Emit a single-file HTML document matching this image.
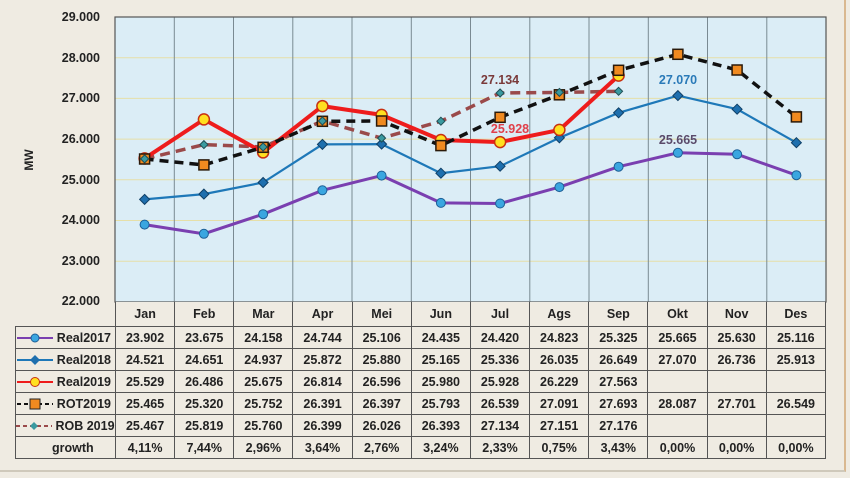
<!DOCTYPE html>
<html><head><meta charset="utf-8"><style>
body{margin:0;width:850px;height:478px;background:#efebe2;overflow:hidden;font-family:"Liberation Sans",sans-serif;}
#frame{position:absolute;left:0;top:0;width:844px;height:470px;border-right:2px solid #d9b890;border-bottom:2px solid #cfc9bb;}
svg{position:absolute;left:0;top:0;}
table{position:absolute;left:15px;top:302px;border-collapse:collapse;table-layout:fixed;width:811px;font-size:12.5px;font-weight:bold;color:#222;}
td{border:1px solid #555;text-align:center;height:21px;padding:0;background:#efebe2;}
tr.h td{height:24px;border-top:none;}
tr.h td:first-child{border:none;border-right:1px solid #555;background:transparent;}
td.l{text-align:right;padding-right:4px;white-space:nowrap;}
#lbl22{position:absolute;left:40px;top:294px;width:60px;text-align:right;font-size:12.5px;font-weight:bold;color:#222;}
</style></head><body>
<div id="frame"></div>
<svg width="850" height="478">
<rect x="115" y="17" width="711" height="285" fill="#dbedf6"/>
<g stroke="#e6dfa8" stroke-width="1">
<line x1="115" y1="57.7" x2="826" y2="57.7"/><line x1="115" y1="98.4" x2="826" y2="98.4"/><line x1="115" y1="139.1" x2="826" y2="139.1"/><line x1="115" y1="179.8" x2="826" y2="179.8"/><line x1="115" y1="220.5" x2="826" y2="220.5"/><line x1="115" y1="261.2" x2="826" y2="261.2"/>
</g>
<g stroke="#7a8a92" stroke-width="1">
<line x1="174.3" y1="17" x2="174.3" y2="302"/><line x1="233.5" y1="17" x2="233.5" y2="302"/><line x1="292.8" y1="17" x2="292.8" y2="302"/><line x1="352" y1="17" x2="352" y2="302"/><line x1="411.3" y1="17" x2="411.3" y2="302"/><line x1="470.5" y1="17" x2="470.5" y2="302"/><line x1="529.8" y1="17" x2="529.8" y2="302"/><line x1="589" y1="17" x2="589" y2="302"/><line x1="648.3" y1="17" x2="648.3" y2="302"/><line x1="707.5" y1="17" x2="707.5" y2="302"/><line x1="766.8" y1="17" x2="766.8" y2="302"/>
</g>
<rect x="115" y="17" width="711" height="285" fill="none" stroke="#555" stroke-width="1.2"/>
<g font-size="12.5" font-weight="bold" fill="#222" text-anchor="end">
<text x="100" y="21">29.000</text><text x="100" y="62">28.000</text><text x="100" y="102">27.000</text><text x="100" y="143">26.000</text><text x="100" y="184">25.000</text><text x="100" y="224">24.000</text><text x="100" y="265">23.000</text>
</g>
<text x="33" y="160" font-size="12" font-weight="bold" fill="#222" transform="rotate(-90 33 160)" text-anchor="middle">MW</text>
<polyline fill="none" stroke="#7a3fb0" stroke-width="3" points="144.6,224.6 203.9,233.8 263.1,214.2 322.4,190.3 381.6,175.6 440.9,202.9 500.1,203.5 559.4,187.1 618.6,166.7 677.9,152.8 737.1,154.3 796.4,175.2"/>
<g fill="#3aa6e0" stroke="#1d5f96" stroke-width="1"><circle cx="144.6" cy="224.6" r="4.5"/><circle cx="203.9" cy="233.8" r="4.5"/><circle cx="263.1" cy="214.2" r="4.5"/><circle cx="322.4" cy="190.3" r="4.5"/><circle cx="381.6" cy="175.6" r="4.5"/><circle cx="440.9" cy="202.9" r="4.5"/><circle cx="500.1" cy="203.5" r="4.5"/><circle cx="559.4" cy="187.1" r="4.5"/><circle cx="618.6" cy="166.7" r="4.5"/><circle cx="677.9" cy="152.8" r="4.5"/><circle cx="737.1" cy="154.3" r="4.5"/><circle cx="796.4" cy="175.2" r="4.5"/></g>
<polyline fill="none" stroke="#1e78b8" stroke-width="2.2" points="144.6,199.4 203.9,194.1 263.1,182.5 322.4,144.4 381.6,144.1 440.9,173.2 500.1,166.2 559.4,137.8 618.6,112.8 677.9,95.6 737.1,109.2 796.4,142.7"/>
<g fill="#1e6fae" stroke="#0f3f66" stroke-width="1"><path d="M144.6,194.4l5,5l-5,5l-5,-5z"/><path d="M203.9,189.1l5,5l-5,5l-5,-5z"/><path d="M263.1,177.5l5,5l-5,5l-5,-5z"/><path d="M322.4,139.4l5,5l-5,5l-5,-5z"/><path d="M381.6,139.1l5,5l-5,5l-5,-5z"/><path d="M440.9,168.2l5,5l-5,5l-5,-5z"/><path d="M500.1,161.2l5,5l-5,5l-5,-5z"/><path d="M559.4,132.8l5,5l-5,5l-5,-5z"/><path d="M618.6,107.8l5,5l-5,5l-5,-5z"/><path d="M677.9,90.6l5,5l-5,5l-5,-5z"/><path d="M737.1,104.2l5,5l-5,5l-5,-5z"/><path d="M796.4,137.7l5,5l-5,5l-5,-5z"/></g>
<polyline fill="none" stroke="#9a4a4a" stroke-width="3.5" stroke-dasharray="10,6" points="144.6,158.9 203.9,144.6 263.1,147 322.4,121 381.6,138.1 440.9,121.2 500.1,93 559.4,92.4 618.6,91.3"/>
<polyline fill="none" stroke="#ee1c1c" stroke-width="4" points="144.6,158.4 203.9,119.4 263.1,152.4 322.4,106.1 381.6,114.9 440.9,140 500.1,142.1 559.4,129.9 618.6,75.6"/>
<g fill="#ffe020" stroke="#c83010" stroke-width="1.5"><circle cx="144.6" cy="158.4" r="5.5"/><circle cx="203.9" cy="119.4" r="5.5"/><circle cx="263.1" cy="152.4" r="5.5"/><circle cx="322.4" cy="106.1" r="5.5"/><circle cx="381.6" cy="114.9" r="5.5"/><circle cx="440.9" cy="140" r="5.5"/><circle cx="500.1" cy="142.1" r="5.5"/><circle cx="559.4" cy="129.9" r="5.5"/><circle cx="618.6" cy="75.6" r="5.5"/></g>
<polyline fill="none" stroke="#111" stroke-width="3.5" stroke-dasharray="9,6" points="144.6,159 203.9,164.9 263.1,147.3 322.4,121.3 381.6,121 440.9,145.6 500.1,117.3 559.4,94.8 618.6,70.3 677.9,54.3 737.1,70 796.4,116.9"/>
<g fill="#f08a20" stroke="#2a1a0a" stroke-width="1.5"><rect x="139.6" y="154" width="10" height="10"/><rect x="198.9" y="159.9" width="10" height="10"/><rect x="258.1" y="142.3" width="10" height="10"/><rect x="317.4" y="116.3" width="10" height="10"/><rect x="376.6" y="116" width="10" height="10"/><rect x="435.9" y="140.6" width="10" height="10"/><rect x="495.1" y="112.3" width="10" height="10"/><rect x="554.4" y="89.8" width="10" height="10"/><rect x="613.6" y="65.3" width="10" height="10"/><rect x="672.9" y="49.3" width="10" height="10"/><rect x="732.1" y="65" width="10" height="10"/><rect x="791.4" y="111.9" width="10" height="10"/></g>
<g fill="#3a9aa0" stroke="#1f4f55" stroke-width="1"><path d="M144.6,154.9l4,4l-4,4l-4,-4z"/><path d="M203.9,140.6l4,4l-4,4l-4,-4z"/><path d="M263.1,143l4,4l-4,4l-4,-4z"/><path d="M322.4,117l4,4l-4,4l-4,-4z"/><path d="M381.6,134.1l4,4l-4,4l-4,-4z"/><path d="M440.9,117.2l4,4l-4,4l-4,-4z"/><path d="M500.1,89l4,4l-4,4l-4,-4z"/><path d="M559.4,88.4l4,4l-4,4l-4,-4z"/><path d="M618.6,87.3l4,4l-4,4l-4,-4z"/></g>
<g font-size="12.5" font-weight="bold" text-anchor="middle">
<text x="500" y="84" fill="#7a3a3a">27.134</text>
<text x="510" y="133" fill="#e0404a">25.928</text>
<text x="678" y="84" fill="#2a7ab8">27.070</text>
<text x="678" y="144" fill="#5a4a6a">25.665</text>
</g>
</svg>
<table>
<colgroup><col style="width:100px"><col span="12"></colgroup>
<tr class="h"><td></td><td>Jan</td><td>Feb</td><td>Mar</td><td>Apr</td><td>Mei</td><td>Jun</td><td>Jul</td><td>Ags</td><td>Sep</td><td>Okt</td><td>Nov</td><td>Des</td></tr>
<tr><td class="l"><svg width="36" height="12" style="position:static;vertical-align:middle"><line x1="0" y1="6" x2="36" y2="6" stroke="#7a3fb0" stroke-width="2"/><circle cx="18" cy="6" r="4" fill="#3aa6e0" stroke="#1d5f96"/></svg> Real2017</td><td>23.902</td><td>23.675</td><td>24.158</td><td>24.744</td><td>25.106</td><td>24.435</td><td>24.420</td><td>24.823</td><td>25.325</td><td>25.665</td><td>25.630</td><td>25.116</td></tr>
<tr><td class="l"><svg width="36" height="12" style="position:static;vertical-align:middle"><line x1="0" y1="6" x2="36" y2="6" stroke="#1e78b8" stroke-width="2"/><path d="M18,1l5,5l-5,5l-5,-5z" fill="#1e6fae"/></svg> Real2018</td><td>24.521</td><td>24.651</td><td>24.937</td><td>25.872</td><td>25.880</td><td>25.165</td><td>25.336</td><td>26.035</td><td>26.649</td><td>27.070</td><td>26.736</td><td>25.913</td></tr>
<tr><td class="l"><svg width="36" height="12" style="position:static;vertical-align:middle"><line x1="0" y1="6" x2="36" y2="6" stroke="#ee1c1c" stroke-width="2"/><circle cx="18" cy="6" r="4.5" fill="#ffe020" stroke="#c83010"/></svg> Real2019</td><td>25.529</td><td>26.486</td><td>25.675</td><td>26.814</td><td>26.596</td><td>25.980</td><td>25.928</td><td>26.229</td><td>27.563</td><td></td><td></td><td></td></tr>
<tr><td class="l"><svg width="36" height="12" style="position:static;vertical-align:middle"><line x1="0" y1="6" x2="36" y2="6" stroke="#111" stroke-width="2" stroke-dasharray="4,3"/><rect x="13" y="1" width="10" height="10" fill="#f08a20" stroke="#222"/></svg> ROT2019</td><td>25.465</td><td>25.320</td><td>25.752</td><td>26.391</td><td>26.397</td><td>25.793</td><td>26.539</td><td>27.091</td><td>27.693</td><td>28.087</td><td>27.701</td><td>26.549</td></tr>
<tr><td class="l"><svg width="36" height="12" style="position:static;vertical-align:middle"><line x1="0" y1="6" x2="36" y2="6" stroke="#9a4a4a" stroke-width="2" stroke-dasharray="4,3"/><path d="M18,2l4,4l-4,4l-4,-4z" fill="#3a9aa0"/></svg> ROB 2019</td><td>25.467</td><td>25.819</td><td>25.760</td><td>26.399</td><td>26.026</td><td>26.393</td><td>27.134</td><td>27.151</td><td>27.176</td><td></td><td></td><td></td></tr>
<tr><td class="l">growth&nbsp;&nbsp;&nbsp;&nbsp;&nbsp;</td><td>4,11%</td><td>7,44%</td><td>2,96%</td><td>3,64%</td><td>2,76%</td><td>3,24%</td><td>2,33%</td><td>0,75%</td><td>3,43%</td><td>0,00%</td><td>0,00%</td><td>0,00%</td></tr>
</table>
<div id="lbl22">22.000</div>
</body></html>
